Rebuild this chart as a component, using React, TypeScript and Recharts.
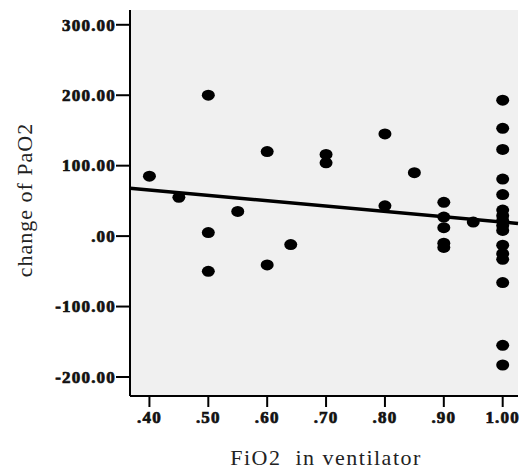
import React from 'react';
import { ScatterChart, Scatter, XAxis, YAxis, CartesianGrid, ReferenceLine } from 'recharts';

// FiO2 setting per patient and the change of PaO2
const fio2 = [
    0.40, 0.45, 0.50, 0.50, 0.50, 0.55, 0.60, 0.60, 0.64, 0.70, 0.70,
    0.80, 0.80, 0.85, 0.90, 0.90, 0.90, 0.90, 0.90, 0.95,
    1.00, 1.00, 1.00, 1.00, 1.00, 1.00, 1.00, 1.00, 1.00, 1.00, 1.00, 1.00, 1.00, 1.00, 1.00, 1.00,
];
const paO2Change = [
    85, 55, 200, 5, -50, 35, 120, -41, -12, 116, 104,
    145, 43, 90, 48, 27, 12, -10, -16, 20,
    193, 153, 123, 81, 59, 37, 29, 22, 15, 8, -13, -25, -33, -66, -155, -183,
];

// fit line end points
const fitX = [0.367, 1.026];
const fitY = [68, 18];

const xTicks = [0.4, 0.5, 0.6, 0.7, 0.8, 0.9, 1.0];
const yTicks = [-200, -100, 0, 100, 200, 300];

const points = fio2.map((x, i) => ({ x, y: paO2Change[i] }));

const fmt = (v: number) => {
    const s = v.toFixed(2);
    if (s.startsWith('0.')) return s.slice(1);
    if (s.startsWith('-0.')) return '-' + s.slice(2);
    return s;
};

const tickFont = '"Liberation Serif", "Times New Roman", serif';

// heavy bold labels like the SPSS output
const tickText = {
    fontFamily: tickFont,
    fontSize: 17,
    fontWeight: 'bold',
    fill: '#111',
    stroke: '#111',
    strokeWidth: 0.7,
    letterSpacing: 1.2,
};

const XTick = (props: any) => (
    <text x={props.x} y={props.y} dy="0.72em" textAnchor="middle" style={tickText}>
        {fmt(props.payload.value)}
    </text>
);

const YTick = (props: any) => (
    <text x={props.x} y={props.y} dy="0.34em" textAnchor="end" style={tickText}>
        {fmt(props.payload.value)}
    </text>
);

const Dot = (props: any) => (
    <ellipse cx={props.cx} cy={props.cy} rx={6.5} ry={5.5} fill="#000" />
);

export default function App() {
    return (
        <div style={{ position: 'absolute', left: 0, top: 0, width: 520, height: 470, background: '#fff' }}>
            <ScatterChart width={520} height={470} margin={{ top: 10, right: 2, bottom: 0, left: 0 }}>
                <CartesianGrid fill="#f0f0f0" stroke="none" horizontal={false} vertical={false} />
                <XAxis
                    type="number"
                    dataKey="x"
                    domain={[0.367, 1.026]}
                    ticks={xTicks}
                    allowDataOverflow
                    height={74}
                    tick={<XTick />}
                    tickSize={11}
                    tickMargin={4}
                    axisLine={{ stroke: '#000', strokeWidth: 2 }}
                    tickLine={{ stroke: '#000', strokeWidth: 2 }}
                />
                <YAxis
                    type="number"
                    dataKey="y"
                    domain={[-227, 321]}
                    ticks={yTicks}
                    allowDataOverflow
                    width={130}
                    tick={<YTick />}
                    tickSize={14}
                    tickMargin={0}
                    axisLine={{ stroke: '#000', strokeWidth: 2 }}
                    tickLine={{ stroke: '#000', strokeWidth: 2 }}
                />
                <Scatter data={points} fill="#000" shape={Dot} isAnimationActive={false} />
                <ReferenceLine
                    segment={[{ x: fitX[0], y: fitY[0] }, { x: fitX[1], y: fitY[1] }]}
                    stroke="#000"
                    strokeWidth={3.5}
                />
            </ScatterChart>
            <div
                style={{
                    position: 'absolute', left: 326, top: 458, transform: 'translate(-50%, -50%)',
                    whiteSpace: 'pre', fontFamily: '"Liberation Serif", serif', fontSize: 22,
                    letterSpacing: 1.5, color: '#222',
                }}
            >
                FiO2  in ventilator
            </div>
            <div
                style={{
                    position: 'absolute', left: 25, top: 200, transform: 'translate(-50%, -50%) rotate(-90deg)',
                    whiteSpace: 'pre', fontFamily: '"Liberation Serif", serif', fontSize: 22,
                    letterSpacing: 1, color: '#222',
                }}
            >
                change of PaO2
            </div>
        </div>
    );
}
